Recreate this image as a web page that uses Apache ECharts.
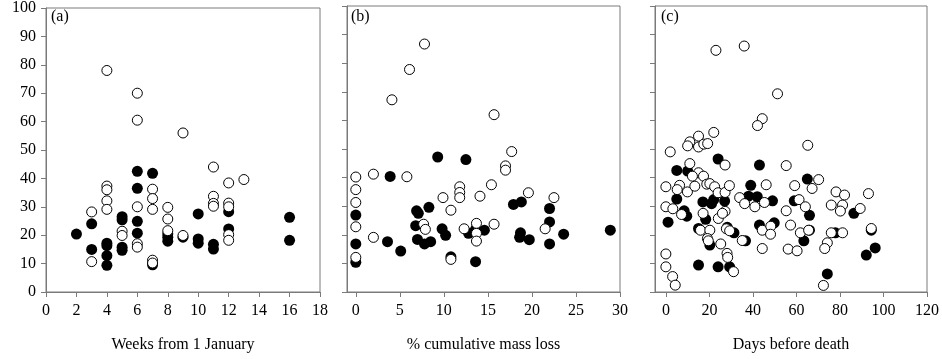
<!DOCTYPE html>
<html>
<head>
<meta charset="utf-8">
<script src="https://cdn.jsdelivr.net/npm/echarts@6/dist/echarts.min.js"></script>
<style>
html,body{margin:0;padding:0;background:#fff;}
#chart{width:942px;height:359px;}
</style>
</head>
<body>
<div id="chart"></div>
<script>
// ---- Data ----
var panelLabels = ['(a)', '(b)', '(c)'];
var axisNames = ['Weeks from 1 January', '% cumulative mass loss', 'Days before death'];
var yTicks = [0, 10, 20, 30, 40, 50, 60, 70, 80, 90, 100];
var xTicksA = [0, 2, 4, 6, 8, 10, 12, 14, 16, 18];
var xTicksB = [0, 5, 10, 15, 20, 25, 30];
var xTicksC = [0, 20, 40, 60, 80, 100, 120];

// Panel (a): weeks from 1 January
var aFilled = [
  [2,20.4],[3,24],[3,15],[4,17.2],[4,16.3],[4,12.8],[4,9.4],
  [5,26.5],[5,25.4],[5,15.8],[5,14.7],
  [6,42.5],[6,36.5],[6,24.9],[6,20.7],
  [7,41.8],[7,9.6],
  [8,20.5],[8,19.3],[8,17.9],[9,19.3],
  [10,27.5],[10,18.7],[10,17.2],[11,16.8],[11,15.1],
  [12,28.3],[12,22.2],[16,26.3],[16,18.2]
];
var aOpen = [
  [3,28.2],[3,10.7],[4,78],[4,37.3],[4,36],[4,32.1],[4,29.1],
  [5,21.4],[5,19.9],
  [6,70],[6,60.5],[6,30],[6,17],[6,15.8],
  [7,36.2],[7,32.9],[7,29.1],[7,11.2],[7,10.2],
  [8,29.8],[8,25.7],[8,21.6],[9,56],[9,19.9],
  [11,44],[11,33.7],[11,31.2],[11,30.2],
  [12,38.4],[12,31.3],[12,30],[12,20.2],[12,18.2],[13,39.6]
];

// Panel (b): % cumulative mass loss
var bFilled = [
  [0,26.9],[0,16.8],[0,10.4],[3.9,40.4],[3.6,17.6],[5.1,14.3],
  [6.9,28.4],[7.1,27.5],[8.3,29.6],[6.8,23.2],[7,18.4],[7.8,16.8],[8.5,17.6],
  [9.3,47.2],[12.5,46.3],[9.8,22.1],[10.2,19.8],[10.8,12.3],
  [12.8,20.5],[13.6,21.9],[14.6,21.6],[13.6,10.6],
  [17.9,30.6],[18.8,31.5],[18.7,20.7],[18.6,19.1],[19.7,18.3],
  [22,29.2],[22,24.5],[22,16.8],[23.6,20.2],[28.9,21.6]
];
var bOpen = [
  [0,40.2],[0,35.8],[0,31.3],[0,22.8],[0,12.1],[2,41.2],[2,19.1],
  [4.1,67.2],[5.8,40.3],[6.1,77.8],[7.8,86.7],
  [9.9,33],[10.8,28.6],[11.8,36.8],[11.8,34.8],[11.8,33],[14.1,33.5],[15.4,37.5],
  [15.7,62],[17,44.1],[17,42.6],[17.7,49.1],[19.6,34.7],[22.5,33],
  [7.7,23.7],[7.9,21.9],[12.3,22.1],[13.7,24],[13.7,20.5],[13.7,17.8],[15.7,23.7],
  [10.8,11.4],[21.5,22.1]
];

// Panel (c): days before death
var cFilled = [
  [5,42.5],[10,42.3],[24,46.5],[43,44.4],[65,39.5],
  [39,37.3],[38,33.5],[42,33.3],[49,31.9],[59,31.9],
  [5,32.5],[17,31.5],[22,32.3],[21,30.9],[27,31.8],
  [8.4,28.4],[9.6,26.5],[1,24.4],[18.3,25.4],[66,26.8],[86.4,27.5],
  [43,23.4],[49.8,24.2],[15,22.2],[28.2,22.6],[31.3,20.7],[36.6,17.9],
  [66,21.6],[77.9,20.7],[94.4,21.6],[20.2,16.4],[63.4,17.9],
  [92.1,12.9],[96.2,15.4],[15,9.4],[24,8.8],[29.3,8.8],[74.2,6.3]
];
var cOpen = [
  [23,84.5],[36,86],[51.3,69.3],[44.3,60.6],[42.1,58.2],[22,55.8],[65.2,51.3],
  [2,49],[15,54.5],[11,52.5],[10,51.1],[15,50.7],[17.4,51.7],[19.2,51.9],
  [27.2,44.4],[55.3,44.2],[11,44.9],[15,41.7],[12.2,40.5],[17.3,40.5],[70.2,39.3],
  [0,36.8],[6.3,37.3],[5.2,35.8],[9.9,35],[13.3,37],[18.8,37.7],[20.2,37.9],[22.4,36.8],
  [24,34.7],[27.2,34.8],[29.2,37.2],[33.9,33],[36.2,30.9],[40.9,29.8],[45.3,31.3],[46.1,37.5],
  [55.3,28.4],[59.2,37.2],[61.2,32.3],[64.1,29.8],[67.2,36.2],
  [0,29.8],[3.2,29.1],[7.2,27.1],[17.1,27.5],[24.1,25.7],[27.2,28.2],[26,27.5],
  [15.9,21.6],[20.2,21.6],[19.1,18.7],[19.5,17.9],[25.2,16.8],[27.8,22.1],[29.3,21.4],
  [35.1,18],[44.3,21.6],[48.2,23],[48.1,20.2],[44.3,15.2],[57.3,23.4],[61.8,20.7],[65.6,21.6],
  [56.2,15],[60.3,14.4],[76,20.7],[74.2,17.2],[73,15.2],[76,30.4],[78.2,35],[82.1,33.9],
  [81.2,30.4],[80.2,28.3],[89.3,29.2],[81.2,20.7],[93.1,34.4],[94.4,22.2],
  [0,13.3],[0,8.8],[3.1,5.4],[4.3,2.4],[28.1,13.5],[28.4,12.1],[31.1,7.1],[72.4,2.3]
];

// ---- Chart ----
var FONT = '"Liberation Serif", "Times New Roman", serif';
var GRAY = '#7a7a7a';
var chart = echarts.init(document.getElementById('chart'), null, {renderer: 'canvas'});

var grids = [
  {left: 46, top: 6, width: 274, height: 286},
  {left: 347, top: 6, width: 273, height: 286},
  {left: 655, top: 6, width: 274, height: 286}
].map(function (g) {
  return Object.assign({show: true, borderColor: GRAY, borderWidth: 1, backgroundColor: 'transparent', containLabel: false}, g);
});

var xRanges = [[0, 18, xTicksA], [-1, 30, xTicksB], [-5, 120, xTicksC]];
var xAxes = xRanges.map(function (r, i) {
  return {
    type: 'value', gridIndex: i, min: r[0], max: r[1],
    name: axisNames[i], nameLocation: 'middle', nameGap: 45,
    nameTextStyle: {fontFamily: FONT, fontSize: 16, color: '#000'},
    axisLine: {show: true, onZero: false, lineStyle: {color: GRAY, width: 1}},
    axisTick: {show: true, length: 5, inside: false, customValues: r[2], lineStyle: {color: GRAY}},
    axisLabel: {show: true, margin: 11, customValues: r[2], fontFamily: FONT, fontSize: 16, color: '#000'},
    splitLine: {show: false}
  };
});
var yAxes = [0, 1, 2].map(function (i) {
  return {
    type: 'value', gridIndex: i, min: 0, max: 100, interval: 10,
    axisLine: {show: true, onZero: false, lineStyle: {color: GRAY, width: 1}},
    axisTick: {show: true, length: 5, inside: false, lineStyle: {color: GRAY}},
    axisLabel: {show: i === 0, margin: 10, fontFamily: FONT, fontSize: 16, color: '#000',
      customValues: yTicks},
    splitLine: {show: false}
  };
});

function filledSeries(data, i) {
  return {type: 'scatter', xAxisIndex: i, yAxisIndex: i, data: data, symbol: 'circle', symbolSize: 11,
    itemStyle: {color: '#000', borderColor: '#000', borderWidth: 0, opacity: 1}, z: 2, silent: true};
}
function openSeries(data, i) {
  return {type: 'scatter', xAxisIndex: i, yAxisIndex: i, data: data, symbol: 'circle', symbolSize: 10,
    itemStyle: {color: '#fff', borderColor: '#000', borderWidth: 1, opacity: 1}, z: 3, silent: true};
}

var titles = panelLabels.map(function (t, i) {
  return {text: t, left: [51, 351, 661][i], top: 9, padding: 0,
    textStyle: {fontFamily: FONT, fontSize: 16, fontWeight: 'normal', color: '#000'}};
});

chart.setOption({
  animation: false,
  backgroundColor: '#fff',
  title: titles,
  grid: grids,
  xAxis: xAxes,
  yAxis: yAxes,
  series: [
    filledSeries(aFilled, 0), openSeries(aOpen, 0),
    filledSeries(bFilled, 1), openSeries(bOpen, 1),
    filledSeries(cFilled, 2), openSeries(cOpen, 2)
  ]
});
</script>
</body>
</html>
